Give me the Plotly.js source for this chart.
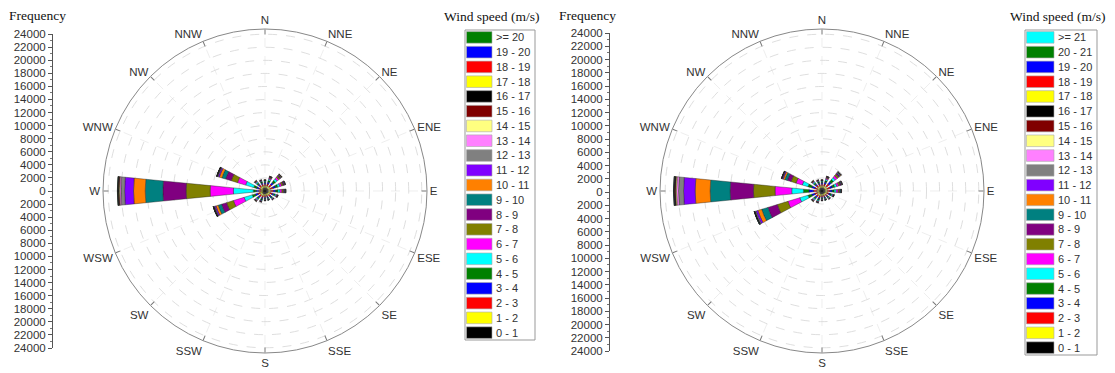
<!DOCTYPE html>
<html><head><meta charset="utf-8">
<script src="https://cdn.plot.ly/plotly-3.0.1.min.js"></script>
<style>html,body{margin:0;padding:0;background:#fff}#chart{width:1115px;height:373px}</style>
</head><body><div id="chart"></div>
<script>
// ---------------- data ----------------
const directions = ['N','NNE','NE','ENE','E','ESE','SE','SSE','S','SSW','SW','WSW','W','WNW','NW','NNW'];
const dirAngles = [0,22.5,45,67.5,90,112.5,135,157.5,180,202.5,225,247.5,270,292.5,315,337.5];

const leftBins = ['0 - 1','1 - 2','2 - 3','3 - 4','4 - 5','5 - 6','6 - 7','7 - 8','8 - 9','9 - 10','10 - 11','11 - 12','12 - 13','13 - 14','14 - 15','15 - 16','16 - 17','17 - 18','18 - 19','19 - 20','>= 20'];
const leftColors = ['#000000','#ffff00','#ff0000','#0000ff','#008000','#00ffff','#ff00ff','#808000','#800080','#008080','#ff8000','#8000ff','#808080','#ff80ff','#ffff80','#800000','#000000','#ffff00','#ff0000','#0000ff','#008000'];
const rightBins = ['0 - 1','1 - 2','2 - 3','3 - 4','4 - 5','5 - 6','6 - 7','7 - 8','8 - 9','9 - 10','10 - 11','11 - 12','12 - 13','13 - 14','14 - 15','15 - 16','16 - 17','17 - 18','18 - 19','19 - 20','20 - 21','>= 21'];
const rightColors = ['#000000','#ffff00','#ff0000','#0000ff','#008000','#00ffff','#ff00ff','#808000','#800080','#008080','#ff8000','#8000ff','#808080','#ff80ff','#ffff80','#800000','#000000','#ffff00','#ff0000','#0000ff','#008000','#00ffff'];

const freqTickVals = [-24000,-22000,-20000,-18000,-16000,-14000,-12000,-10000,-8000,-6000,-4000,-2000,0,2000,4000,6000,8000,10000,12000,14000,16000,18000,20000,22000,24000];
const freqTickText = ['24000','22000','20000','18000','16000','14000','12000','10000','8000','6000','4000','2000','0','2000','4000','6000','8000','10000','12000','14000','16000','18000','20000','22000','24000'];

// left rose: frequency per speed bin (0-1 ... >=20) for each direction
const L_N   = [500,300,250,200,150,120,80,50,30,20,10,0,0,0,0,0,0,0,0,0,0];
const L_NNE = [500,350,300,280,250,220,180,120,80,50,30,10,0,0,0,0,0,0,0,0,0];
const L_NE  = [500,400,400,400,380,350,300,250,180,120,70,30,10,0,0,0,0,0,0,0,0];
const L_ENE = [500,400,400,380,360,340,300,240,170,110,60,30,10,0,0,0,0,0,0,0,0];
const L_E   = [500,400,380,360,340,320,290,230,170,110,60,30,10,0,0,0,0,0,0,0,0];
const L_ESE = [500,350,300,260,220,180,130,80,50,30,10,0,0,0,0,0,0,0,0,0,0];
const L_SE  = [500,320,260,210,170,130,90,60,40,20,0,0,0,0,0,0,0,0,0,0,0];
const L_SSE = [450,280,220,170,130,100,70,40,25,15,0,0,0,0,0,0,0,0,0,0,0];
const L_S   = [450,280,220,170,130,100,70,40,25,15,0,0,0,0,0,0,0,0,0,0,0];
const L_SSW = [500,320,260,210,170,130,90,60,40,20,0,0,0,0,0,0,0,0,0,0,0];
const L_SW  = [500,350,300,260,220,180,130,80,50,30,10,0,0,0,0,0,0,0,0,0,0];
const L_WSW = [450,350,350,400,500,1300,1700,1100,800,550,350,200,100,50,30,20,10,10,5,5,5];
const L_W   = [300,300,350,400,440,3050,3560,3680,3560,2700,1790,1370,560,200,100,80,60,30,30,20,30];
const L_WNW = [400,300,300,350,450,1300,1300,1000,900,600,400,200,100,50,30,20,10,5,5,5,5];
const L_NW  = [500,350,300,260,220,180,130,80,50,30,10,0,0,0,0,0,0,0,0,0,0];
const L_NNW = [500,320,260,210,170,130,90,60,40,20,0,0,0,0,0,0,0,0,0,0,0];

// right rose: frequency per speed bin (0-1 ... >=21) for each direction
const R_N   = [500,300,250,200,150,120,80,50,30,20,10,0,0,0,0,0,0,0,0,0,0,0];
const R_NNE = [500,350,300,280,250,220,180,120,80,50,30,10,0,0,0,0,0,0,0,0,0,0];
const R_NE  = [500,450,450,450,420,400,350,300,220,150,90,40,20,10,0,0,0,0,0,0,0,0];
const R_ENE = [500,400,400,380,360,340,300,240,170,110,60,30,10,0,0,0,0,0,0,0,0,0];
const R_E   = [480,380,360,340,320,300,270,210,160,100,50,20,10,0,0,0,0,0,0,0,0,0];
const R_ESE = [500,330,280,240,200,160,110,70,40,20,10,0,0,0,0,0,0,0,0,0,0,0];
const R_SE  = [480,300,240,200,160,120,80,50,30,20,0,0,0,0,0,0,0,0,0,0,0,0];
const R_SSE = [450,280,220,170,130,100,70,40,25,15,0,0,0,0,0,0,0,0,0,0,0,0];
const R_S   = [450,280,220,170,130,100,70,40,25,15,0,0,0,0,0,0,0,0,0,0,0,0];
const R_SSW = [500,340,280,230,190,150,100,70,40,20,0,0,0,0,0,0,0,0,0,0,0,0];
const R_SW  = [500,350,300,260,220,180,130,80,50,30,10,0,0,0,0,0,0,0,0,0,0,0];
const R_WSW = [400,350,400,500,600,1300,1900,1700,1500,1000,600,300,150,50,30,20,10,10,5,5,5,5];
const R_W   = [400,400,500,700,850,1790,2550,3310,3570,3060,2290,1780,770,300,150,100,80,50,30,20,15,15];
const R_WNW = [400,350,400,500,600,900,1000,800,600,400,250,150,80,30,20,10,5,5,0,0,0,0];
const R_NW  = [500,350,300,260,220,180,130,80,50,30,10,0,0,0,0,0,0,0,0,0,0,0];
const R_NNW = [500,320,260,210,170,130,90,60,40,20,0,0,0,0,0,0,0,0,0,0,0,0];

const leftByDir  = [L_N,L_NNE,L_NE,L_ENE,L_E,L_ESE,L_SE,L_SSE,L_S,L_SSW,L_SW,L_WSW,L_W,L_WNW,L_NW,L_NNW];
const rightByDir = [R_N,R_NNE,R_NE,R_ENE,R_E,R_ESE,R_SE,R_SSE,R_S,R_SSW,R_SW,R_WSW,R_W,R_WNW,R_NW,R_NNW];

// ---------------- layout helpers ----------------
const W = 1115, H = 373;
const px = x => x / W;
const py = y => 1 - y / H;

const traces = [];
function addRose(byDir, bins, colors, subplot) {
  bins.forEach((b, i) => {
    traces.push({
      type: 'barpolar', subplot: subplot, name: b, showlegend: false,
      theta: dirAngles, r: byDir.map(d => d[i]), width: 11.25,
      marker: {color: colors[i], line: {color: '#222', width: 0.4}},
      hoverinfo: 'skip'
    });
  });
}
addRose(leftByDir, leftBins, leftColors, 'polar');
addRose(rightByDir, rightBins, rightColors, 'polar2');
// dummy traces so the frequency axes are drawn
traces.push({type:'scatter', x:[0], y:[0], xaxis:'x', yaxis:'y', mode:'markers', marker:{size:0,opacity:0}, hoverinfo:'skip', showlegend:false});
traces.push({type:'scatter', x:[0], y:[0], xaxis:'x2', yaxis:'y2', mode:'markers', marker:{size:0,opacity:0}, hoverinfo:'skip', showlegend:false});

const tickFont = {family:'Liberation Sans, Arial, sans-serif', size: 11.5, color:'#333'};

function polarLayout(x0, x1) {
  return {
    domain: {x:[px(x0), px(x1)], y:[py(353), py(29)]},
    bgcolor: 'rgba(0,0,0,0)',
    barmode: 'stack',
    radialaxis: {range:[0,24800], tick0:0, dtick:2000, showticklabels:false, ticks:'',
      showline:false, gridcolor:'#d6d6d6', griddash:'dash', gridwidth:0.8},
    angularaxis: {rotation:90, direction:'clockwise', tickmode:'array', tickvals: dirAngles, ticktext: directions,
      ticks:'inside', ticklen:5, tickcolor:'#777', linecolor:'#888', linewidth:1, showline:true,
      gridcolor:'#e6e6e6', griddash:'dash', gridwidth:0.7, showgrid:true,
      tickfont: tickFont}
  };
}

function freqAxis(domain, anchor) {
  return {anchor: anchor, domain: domain, range:[-24000,24000], tickmode:'array', tickvals: freqTickVals, ticktext: freqTickText,
    ticks:'outside', ticklen:4, tickcolor:'#555', showline:true, linecolor:'#555', linewidth:1, showgrid:false, zeroline:false,
    tickfont: tickFont, fixedrange:true,
    minor: {tickmode:'linear', tick0:0, dtick:1000, ticks:'outside', ticklen:2, tickcolor:'#777'}};
}

const shapes = [];
const annotations = [];
function addLegend(bins, colors, boxX0, boxX1, boxY0, boxY1, swX0, swX1, labelX, titleX) {
  shapes.push({type:'rect', xref:'paper', yref:'paper', x0:px(boxX0), x1:px(boxX1), y0:py(boxY1), y1:py(boxY0),
    line:{color:'#999', width:1}, fillcolor:'rgba(0,0,0,0)'});
  const n = bins.length;
  const step = (boxY1 - boxY0) / n;
  for (let k = 0; k < n; k++) {
    const i = n - 1 - k; // top entry is the highest bin
    const yc = boxY0 + step * (k + 0.5);
    shapes.push({type:'rect', xref:'paper', yref:'paper', x0:px(swX0), x1:px(swX1), y0:py(yc + 5.8), y1:py(yc - 5.8),
      line:{color:'#aaa', width:0.6}, fillcolor: colors[i]});
    annotations.push({xref:'paper', yref:'paper', x:px(labelX), y:py(yc), xanchor:'left', yanchor:'middle', showarrow:false,
      text: bins[i], font:{family:'Liberation Sans, Arial, sans-serif', size:11, color:'#333'}});
  }
  annotations.push({xref:'paper', yref:'paper', x:px(titleX), y:py(16), xanchor:'center', yanchor:'middle', showarrow:false,
    text:'Wind speed (m/s)', font:{family:'Liberation Serif, Times New Roman, serif', size:13.5, color:'#111'}});
}
addLegend(leftBins, leftColors, 465, 535, 30, 340, 466.5, 492, 494, 491);
addLegend(rightBins, rightColors, 1025, 1097, 30, 355, 1026.5, 1054, 1056, 1057);

annotations.push({xref:'paper', yref:'paper', x:px(7), y:py(15), xanchor:'left', yanchor:'middle', showarrow:false,
  text:'Frequency', font:{family:'Liberation Serif, Times New Roman, serif', size:13.5, color:'#111'}});
annotations.push({xref:'paper', yref:'paper', x:px(557), y:py(15), xanchor:'left', yanchor:'middle', showarrow:false,
  text:'Frequency', font:{family:'Liberation Serif, Times New Roman, serif', size:13.5, color:'#111'}});

const layout = {
  width: W, height: H, margin:{l:0,r:0,t:0,b:0}, paper_bgcolor:'#fff', plot_bgcolor:'rgba(0,0,0,0)',
  showlegend:false,
  polar: polarLayout(103, 427),
  polar2: polarLayout(660, 984),
  xaxis: {domain:[px(53), px(54)], visible:false, fixedrange:true},
  xaxis2: {domain:[px(610), px(611)], visible:false, fixedrange:true},
  yaxis: freqAxis([py(348), py(34)], 'x'),
  yaxis2: freqAxis([py(351), py(33)], 'x2'),
  shapes: shapes, annotations: annotations
};

Plotly.newPlot('chart', traces, layout, {staticPlot:true, displayModeBar:false});
</script></body></html>
